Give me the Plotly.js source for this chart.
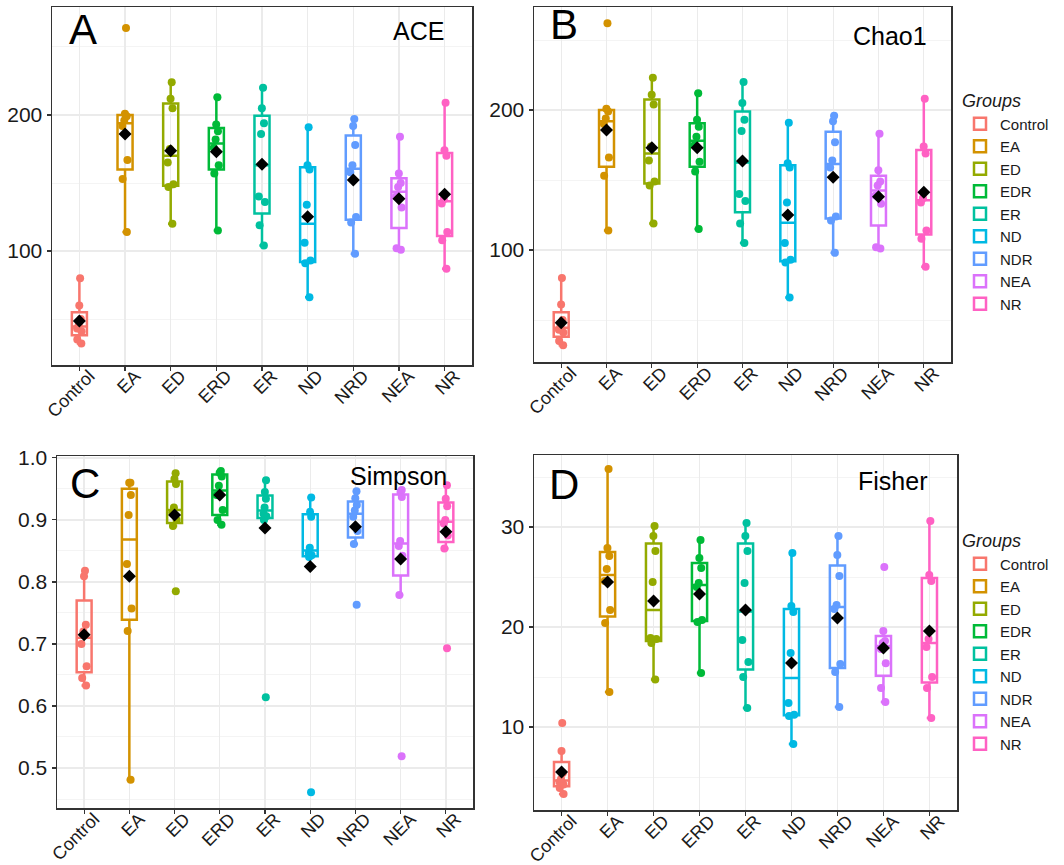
<!DOCTYPE html>
<html>
<head>
<meta charset="utf-8">
<script src="https://cdn.plot.ly/plotly-3.0.1.min.js"></script>
<style>
  html, body { margin: 0; padding: 0; background: #ffffff; }
  #chart { width: 1064px; height: 865px; }
</style>
</head>
<body>
<div id="chart"></div>
<script>
// ---------- DATA ----------
const categories = ['Control', 'EA', 'ED', 'ERD', 'ER', 'ND', 'NRD', 'NEA', 'NR'];
const legendLabels = ['Control', 'EA', 'ED', 'EDR', 'ER', 'ND', 'NDR', 'NEA', 'NR'];

// Panel A - ACE (samples per group)
const aceValues = [
  [32, 35, 41, 43, 46, 50, 60, 80],
  [114, 153, 167, 192, 196, 199, 201, 264],
  [120, 147, 149, 165, 175, 205, 212, 224],
  [115, 157, 163, 176, 182, 188, 193, 213],
  [104, 119, 136, 140, 186, 194, 205, 220],
  [66, 91, 93, 106, 134, 160, 163, 191],
  [98, 121, 125, 158, 163, 178, 192, 197],
  [101, 102, 132, 140, 147, 150, 157, 184],
  [87, 108, 114, 135, 138, 170, 174, 209]
];
const aceMeans = [48.5, 186, 173.8, 173, 163.7, 125.2, 152.2, 138.5, 141.7];

// Panel B - Chao1
const chao1Values = [
  [32, 35, 41, 43, 46, 50, 61, 80],
  [114, 153, 166, 190, 194, 199, 201, 262],
  [119, 146, 149, 164, 174, 204, 211, 223],
  [115, 156, 163, 175, 181, 188, 193, 212],
  [105, 119, 135, 140, 185, 193, 205, 220],
  [66, 91, 93, 105, 134, 159, 162, 191],
  [98, 121, 124, 159, 164, 177, 192, 196],
  [101, 102, 133, 139, 146, 149, 157, 183],
  [88, 108, 114, 134, 137, 169, 174, 208]
];
const chao1Means = [48.1, 185.7, 173, 173, 163.6, 125, 151.9, 138.1, 141.2];

// Panel C - Simpson
const simpsonValues = [
  [0.633, 0.645, 0.664, 0.700, 0.720, 0.731, 0.809, 0.818],
  [0.481, 0.721, 0.757, 0.829, 0.908, 0.940, 0.960, 0.960],
  [0.785, 0.890, 0.900, 0.912, 0.920, 0.958, 0.966, 0.975],
  [0.892, 0.900, 0.916, 0.940, 0.955, 0.970, 0.976, 0.979],
  [0.614, 0.900, 0.906, 0.910, 0.920, 0.934, 0.945, 0.964],
  [0.461, 0.840, 0.843, 0.846, 0.855, 0.905, 0.913, 0.936],
  [0.763, 0.861, 0.882, 0.905, 0.915, 0.924, 0.935, 0.946],
  [0.519, 0.779, 0.842, 0.858, 0.866, 0.937, 0.945, 0.948],
  [0.693, 0.854, 0.875, 0.894, 0.900, 0.922, 0.934, 0.956]
];
const simpsonMeans = [0.715, 0.809, 0.908, 0.940, 0.887, 0.825, 0.889, 0.837, 0.881];

// Panel D - Fisher
const fisherValues = [
  [3.3, 3.9, 4.25, 4.5, 4.8, 5.4, 7.6, 10.4],
  [13.5, 20.4, 21.7, 24.6, 25.8, 27.1, 27.9, 35.8],
  [14.75, 18.4, 18.8, 18.9, 24.5, 27.6, 29.1, 30.1],
  [15.4, 20.5, 20.7, 24.0, 24.4, 25.9, 26.9, 28.7],
  [11.9, 15.0, 16.5, 18.7, 24.4, 27.6, 29.1, 30.4],
  [8.3, 11.1, 11.23, 12.4, 17.4, 21.5, 22.1, 27.4],
  [12.0, 15.5, 16.3, 21.8, 22.2, 25.1, 27.2, 29.1],
  [12.5, 13.9, 16.37, 17.8, 18.4, 18.6, 19.6, 26.0],
  [10.9, 13.9, 15.0, 18.0, 18.8, 24.6, 25.2, 30.6]
];
const fisherMeans = [5.5, 24.5, 22.6, 23.3, 21.7, 16.4, 20.9, 17.9, 19.6];

// ---------- STYLE ----------
const groupColors = ['#F8766D', '#D39200', '#93AA00', '#00BA38', '#00C19F', '#00B9E3', '#619CFF', '#DB72FB', '#FF61C3'];
const FONT = 'Liberation Sans, Arial, Helvetica, sans-serif';

const panels = [
  { values: aceValues, means: aceMeans, xa: 'x', ya: 'y', legend: null },
  { values: chao1Values, means: chao1Means, xa: 'x2', ya: 'y2', legend: 'legend' },
  { values: simpsonValues, means: simpsonMeans, xa: 'x3', ya: 'y3', legend: null },
  { values: fisherValues, means: fisherMeans, xa: 'x4', ya: 'y4', legend: 'legend2' }
];

const traces = [];
panels.forEach(p => {
  p.values.forEach((vals, i) => {
    const t = {
      type: 'box',
      x0: categories[i],
      y: vals,
      name: legendLabels[i],
      xaxis: p.xa,
      yaxis: p.ya,
      width: 0.33,
      boxpoints: 'all',
      jitter: 0.5,
      pointpos: 0,
      whiskerwidth: 0.35,
      fillcolor: 'rgba(255,255,255,0)',
      line: { color: groupColors[i], width: 2.5 },
      marker: { color: groupColors[i], size: 8, opacity: 1 },
      hoverinfo: 'skip',
      showlegend: p.legend !== null
    };
    if (p.legend) t.legend = p.legend;
    traces.push(t);
  });
  traces.push({
    type: 'scatter',
    mode: 'markers',
    x: categories,
    y: p.means,
    xaxis: p.xa,
    yaxis: p.ya,
    marker: { symbol: 'diamond', color: '#000000', size: 10 },
    hoverinfo: 'skip',
    showlegend: false
  });
});

function xAxis(domain, anchor) {
  return {
    domain: domain, anchor: anchor,
    type: 'category',
    categoryorder: 'array', categoryarray: categories,
    range: [-0.6, 8.6],
    showgrid: true, gridcolor: '#EBEBEB', gridwidth: 1.3,
    zeroline: false,
    showline: true, mirror: true, linecolor: '#333333', linewidth: 1.5,
    ticks: 'outside', ticklen: 4, tickcolor: '#333333', tickwidth: 1.2,
    tickangle: -45,
    ticklabelstandoff: -12,
    ticklabelshift: 10,
    tickfont: { family: FONT, size: 18, color: '#1a1a1a' },
    fixedrange: true
  };
}
function yAxis(domain, anchor, range, dtick, minorDtick, fmt) {
  return {
    domain: domain, anchor: anchor,
    range: range,
    tick0: 0, dtick: dtick,
    tickformat: fmt,
    minor: { dtick: minorDtick, tick0: 0, showgrid: true, gridcolor: '#F4F4F4', gridwidth: 1 },
    showgrid: true, gridcolor: '#EBEBEB', gridwidth: 1.3,
    zeroline: false,
    showline: true, mirror: true, linecolor: '#333333', linewidth: 1.5,
    ticks: 'outside', ticklen: 4, tickcolor: '#333333', tickwidth: 1.2,
    tickfont: { family: FONT, size: 21, color: '#1a1a1a' },
    fixedrange: true
  };
}

const W = 1064, H = 865;
const px = v => v / W;
const py = v => 1 - v / H;

const legendCommon = {
  xanchor: 'left', yanchor: 'top',
  bgcolor: 'rgba(0,0,0,0)',
  font: { family: FONT, size: 15, color: '#1a1a1a' },
  title: { text: '<i>Groups</i>', font: { family: FONT, size: 18, color: '#1a1a1a' } },
  itemwidth: 30,
  tracegroupgap: 0
};

const annText = (text, x, y, xanchor, size) => ({
  text: text, xref: 'paper', yref: 'paper', x: x, y: y,
  xanchor: xanchor, yanchor: 'bottom', showarrow: false,
  font: { family: FONT, size: size, color: '#000000' }
});

const layout = {
  width: W, height: H,
  margin: { l: 0, r: 0, t: 0, b: 0, autoexpand: false },
  paper_bgcolor: '#ffffff', plot_bgcolor: '#ffffff',
  boxmode: 'overlay',
  showlegend: true,
  xaxis: xAxis([px(52), px(472)], 'y'),
  yaxis: yAxis([py(365), py(7)], 'x', [16.2, 279.4], 100, 50, 'd'),
  xaxis2: xAxis([px(534), px(951)], 'y2'),
  yaxis2: yAxis([py(362), py(7)], 'x2', [20, 273.6], 100, 50, 'd'),
  xaxis3: xAxis([px(57), px(473)], 'y3'),
  yaxis3: yAxis([py(808), py(456)], 'x3', [0.4355, 1.003], 0.1, 0.05, '.1f'),
  xaxis4: xAxis([px(534), px(957)], 'y4'),
  yaxis4: yAxis([py(810), py(455)], 'x4', [1.7, 37.2], 10, 5, 'd'),
  legend: Object.assign({}, legendCommon, { x: px(960), y: py(84) }),
  legend2: Object.assign({}, legendCommon, { x: px(960), y: py(524) }),
  annotations: [
    annText('A', px(67), py(55), 'left', 42),
    annText('ACE', px(446), py(47), 'right', 25),
    annText('B', px(548), py(50), 'left', 42),
    annText('Chao1', px(929), py(52), 'right', 25),
    annText('C', px(68), py(509), 'left', 42),
    annText('Simpson', px(449), py(492), 'right', 25),
    annText('D', px(547), py(510), 'left', 42),
    annText('Fisher', px(929), py(497), 'right', 25)
  ]
};

Plotly.newPlot('chart', traces, layout, { staticPlot: true, displayModeBar: false });
</script>
</body>
</html>
